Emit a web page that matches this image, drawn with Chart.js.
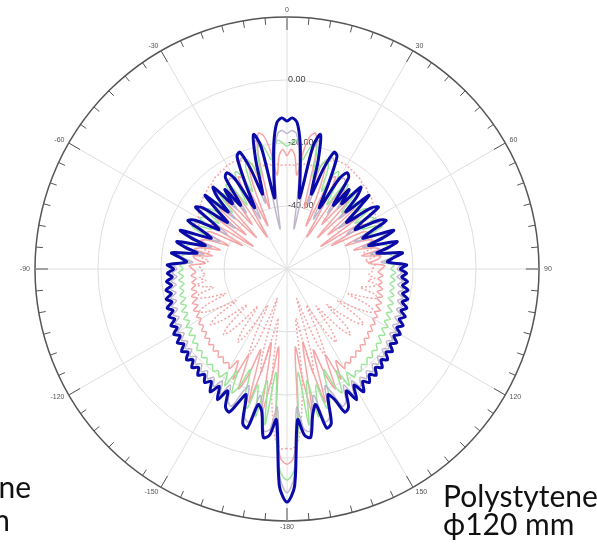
<!DOCTYPE html>
<html>
<head>
<meta charset="utf-8">
<script src="https://cdn.jsdelivr.net/npm/chart.js@4.4.1/dist/chart.umd.min.js"></script>
<style>
  html, body { margin: 0; padding: 0; background: #fff; overflow: hidden; }
  #wrap { position: relative; width: 597px; height: 549px; overflow: hidden; }
  #c { position: absolute; left: 0; top: 0; }
  .note { position: absolute; font-family: Lato, "Open Sans", sans-serif; font-size: 30px; line-height: 28px; color: #111; white-space: nowrap; }
</style>
</head>
<body>
<div id="wrap">
  <canvas id="c" width="597" height="549"></canvas>
  <div class="note" style="left:443px; top:481px;">Polystytene<br>ϕ120 mm</div>
  <div class="note" style="right:566px; top:472px; text-align:right;">Polyethylene</div>
  <div class="note" style="right:587px; top:505px; text-align:right;">ϕ120 mm</div>
</div>
<script>
(function () {

    // angles in degrees, 0 at top, clockwise, 2 deg step
    const angles = [];
    for (let a = -180; a < 180; a += 2) angles.push(a);

    // dB values, -180 .. 178
    const blue = [
        14, 9, -12, -7, -6, -14, -16, -8, -9, -18,
        -15, -11, -12, -17, -13, -17, -14, -17, -15.5, -17.5,
        -16, -18, -16.5, -18.5, -17, -19, -17.5, -19.5, -18, -20,
        -18.5, -20.5, -19, -21, -19.5, -21.5, -20, -22, -20.5, -22.5,
        -21, -23, -21.5, -23.5, -22, -24, -22, -28, -26, -23,
        -31, -27, -24, -33, -28, -24, -34, -31, -25, -27,
        -35, -32, -25, -27, -36, -31, -25, -34, -28, -25,
        -33, -28, -35, -25, -24, -27, -38, -30, -21, -20,
        -26, -35, -24, -16, -20, -37, -30, -20, -13.5, -12,
        -13, -12, -13.5, -20, -30, -37, -20, -16, -24, -35,
        -26, -20, -21, -30, -38, -27, -24, -25, -35, -28,
        -33, -25, -28, -34, -25, -31, -36, -27, -25, -32,
        -35, -27, -25, -31, -34, -24, -28, -33, -24, -27,
        -31, -23, -26, -28, -22, -24, -22, -23.5, -21.5, -23,
        -21, -22.5, -20.5, -22, -20, -21.5, -19.5, -21, -19, -20.5,
        -18.5, -20, -18, -19.5, -17.5, -19, -17, -18.5, -16.5, -18,
        -16, -17.5, -15.5, -17, -14, -17.5, -13, -17, -12, -11,
        -16, -18, -9, -8, -16, -13, -6, -7, -12, 9
    ];

    const grey = [
        11, 6, -16, -9, -8, -15, -19, -10, -11, -21,
        -18, -13, -14, -19, -15, -19, -16, -18.5, -17, -19,
        -17.5, -19.5, -18, -20, -18.5, -20.5, -19, -21, -19.5, -21.5,
        -20, -22, -20.5, -22.5, -21, -23, -21.5, -23.5, -22, -24,
        -22.5, -24.5, -23, -25, -23.5, -25, -24, -30, -27, -25,
        -33, -28, -26, -35, -30, -26, -37, -33, -27, -29,
        -38, -34, -27, -28, -39, -33, -27, -37, -29, -27,
        -35, -30, -38, -27, -26, -28, -42, -33, -23, -22,
        -27, -38, -25, -18, -22, -47, -34, -23, -17, -16,
        -17, -16, -17, -23, -34, -47, -22, -18, -25, -38,
        -27, -22, -23, -33, -42, -28, -26, -27, -38, -30,
        -35, -27, -29, -37, -27, -33, -39, -28, -27, -34,
        -38, -29, -27, -33, -37, -26, -30, -35, -26, -28,
        -33, -25, -27, -30, -24, -25, -23.5, -25, -23, -24.5,
        -22.5, -24, -22, -23.5, -21.5, -23, -21, -22.5, -20.5, -22,
        -20, -21.5, -19.5, -21, -19, -20.5, -18.5, -20, -18, -19.5,
        -17.5, -19, -17, -18.5, -16, -19, -15, -19, -14, -13,
        -18, -21, -11, -10, -19, -15, -8, -9, -16, 6
    ];

    const green = [
        7, 4, -9, -27, -10, -24, -12, -22, -14, -16,
        -26, -20, -17, -24, -18, -22, -19.5, -21, -20, -21.5,
        -20.5, -22, -21, -22.5, -21.5, -23, -22, -24, -22.5, -24.5,
        -23, -25, -23.5, -25.5, -24, -26, -24.5, -26.5, -25, -26.5,
        -25.5, -27, -25.5, -27, -25.5, -27, -26, -29, -26, -27,
        -30, -27, -28, -31, -27, -28, -32, -27, -29, -33,
        -28, -29, -34, -28, -29, -33, -28, -30, -35, -28,
        -29, -33, -27, -28, -36, -29, -25, -27, -33, -25,
        -23, -26, -30, -21, -19, -22, -25, -21, -19, -20,
        -21, -20, -19, -21, -25, -22, -19, -21, -30, -26,
        -23, -25, -33, -27, -25, -29, -36, -28, -27, -33,
        -29, -28, -35, -30, -28, -33, -29, -28, -34, -29,
        -28, -33, -29, -27, -32, -28, -27, -31, -28, -27,
        -30, -27, -26, -29, -26, -27, -25.5, -27, -25.5, -27,
        -25.5, -26.5, -25, -26.5, -24.5, -26, -24, -25.5, -23.5, -25,
        -23, -24.5, -22.5, -24, -22, -23, -21.5, -22.5, -21, -22,
        -20.5, -21.5, -20, -21, -19.5, -22, -18, -24, -17, -20,
        -26, -16, -14, -22, -12, -24, -10, -27, -9, 4
    ];

    const pink = [
        2, 0, -10, -35, -25, -13, -36, -27, -16, -33,
        -24, -19, -30, -21, -27, -23.5, -25, -24, -25.5, -24.5,
        -26, -25, -26.5, -25.5, -27, -26, -27.5, -26.5, -28, -27,
        -28.5, -27.5, -29, -27.5, -29.5, -28, -30, -28.5, -30.5, -29,
        -30.5, -29.5, -31, -29.5, -31, -30, -29, -34, -31, -30,
        -36, -30, -32, -38, -31, -33, -40, -32, -33, -44,
        -32, -34, -47, -32, -34, -43, -31, -33, -46, -31,
        -35, -42, -29, -30, -48, -38, -27, -28, -45, -32,
        -24, -26, -40, -22, -16, -17, -22, -30, -24, -22,
        -24, -22, -24, -30, -22, -17, -16, -22, -40, -26,
        -24, -32, -45, -28, -27, -38, -48, -30, -29, -42,
        -35, -31, -46, -33, -31, -43, -34, -32, -47, -34,
        -32, -44, -33, -32, -40, -33, -31, -38, -32, -30,
        -36, -30, -31, -34, -29, -30, -31, -29.5, -31, -29.5,
        -30.5, -29, -30.5, -28.5, -30, -28, -29.5, -27.5, -29, -27.5,
        -28.5, -27, -28, -26.5, -27.5, -26, -27, -25.5, -26.5, -25,
        -26, -24.5, -25.5, -24, -25, -23.5, -27, -21, -30, -19,
        -24, -33, -16, -27, -36, -13, -25, -35, -10, 0
    ];

    const pinkDotted = [
        -3, -3, -6, -15, -26, -44, -38, -26, -32, -50,
        -44, -34, -30, -38, -47, -42, -35, -32, -36, -45,
        -40, -34, -31, -34, -43, -38, -33, -30, -33, -41,
        -36, -31, -29, -32, -39, -34, -30, -31, -36, -33,
        -31, -34, -32, -34, -33, -33, -32, -33, -35, -32,
        -33, -35, -32, -34, -32, -31.5, -31, -30, -29, -28,
        -27.5, -27, -26.5, -26, -25.5, -25, -25, -24.5, -24, -24,
        -23.5, -23, -23, -22.5, -22.5, -22, -22, -22, -22.5, -23,
        -24, -25, -26, -26, -26.5, -26, -27, -26.5, -27, -27,
        -27, -27, -27, -26.5, -27, -26, -26.5, -26, -26, -25,
        -24, -23, -22.5, -22, -22, -22, -22.5, -22.5, -23, -23,
        -23.5, -24, -24, -24.5, -25, -25, -25.5, -26, -26.5, -27,
        -27.5, -28, -29, -30, -31, -31.5, -32, -34, -32, -35,
        -33, -32, -35, -33, -32, -33, -33, -34, -32, -34,
        -31, -33, -36, -31, -30, -34, -39, -32, -29, -31,
        -36, -41, -33, -30, -33, -38, -43, -34, -31, -34,
        -40, -45, -36, -32, -35, -42, -47, -38, -30, -34,
        -44, -50, -32, -26, -38, -44, -26, -15, -6, -3
    ];

    // radial tick labels and angle labels
    const rTickValues = [0, -20, -40];
    const rTickLabels = ['0.00', '-20.00', '-40.00'];
    const angleLabels = [0, 30, 60, 90, 120, 150, -180, -150, -120, -90, -60, -30];

    const axisFont = '"Liberation Sans", Arial, sans-serif';

    // outer ring ticks, angle labels and dB labels
    const polarFrame = {
        id: 'polarFrame',
        beforeDatasetsDraw(chart) {
            const s = chart.scales.r;
            const ctx = chart.ctx;
            const R = s.drawingArea;
            ctx.save();

            ctx.strokeStyle = '#555';
            ctx.lineWidth = 1;
            for (let d = 0; d < 360; d += 5) {
                const len = d % 30 === 0 ? 13 : 7;
                const t = d * Math.PI / 180;
                ctx.beginPath();
                ctx.moveTo(s.xCenter + Math.sin(t) * R, s.yCenter - Math.cos(t) * R);
                ctx.lineTo(s.xCenter + Math.sin(t) * (R - len), s.yCenter - Math.cos(t) * (R - len));
                ctx.stroke();
            }

            ctx.font = '7px ' + axisFont;
            ctx.fillStyle = '#555';
            angleLabels.forEach(function (a) {
                const idx = angles.indexOf(a);
                const t = a * Math.PI / 180;
                const sn = Math.sin(t), cs = Math.cos(t);
                const p = s.getPointPosition(idx, R + (Math.abs(sn) < 0.1 ? 3 : 5));
                ctx.textAlign = sn > 0.1 ? 'left' : (sn < -0.1 ? 'right' : 'center');
                ctx.textBaseline = cs > 0.9 ? 'bottom' : (cs < -0.9 ? 'top' : 'middle');
                ctx.fillText(String(a), p.x, p.y);
            });

            ctx.font = '9px ' + axisFont;
            ctx.fillStyle = '#444';
            ctx.textAlign = 'left';
            ctx.textBaseline = 'middle';
            rTickValues.forEach(function (v, i) {
                const dist = s.getDistanceFromCenterForValue(v);
                ctx.fillText(rTickLabels[i], s.xCenter + 1, s.yCenter - dist);
            });
            ctx.restore();
        }
    };

    const line = (data, color, width, dash) => ({
        data: data,
        borderColor: color,
        borderWidth: width,
        borderDash: dash || [],
        borderJoinStyle: 'round',
        fill: false,
        pointRadius: 0,
        pointHoverRadius: 0
    });

    const data = {
        labels: angles,
        datasets: [
            line(blue, '#0a0aa8', 3),
            line(grey, 'rgba(185,175,200,0.9)', 1.5),
            line(green, 'rgba(150,228,150,0.95)', 1.5),
            line(pink, 'rgba(244,160,160,0.95)', 1.5),
            line(pinkDotted, 'rgba(244,160,160,0.95)', 1.5, [2, 2])
        ]
    };

    const config = {
        type: 'radar',
        data,
        options: {
            responsive: false,
            animation: false,
            layout: { padding: { left: 35, top: 17, right: 58, bottom: 28 } },
            plugins: { legend: { display: false }, tooltip: { enabled: false } },
            elements: { line: { tension: 0.3 } },
            scales: {
                r: {
                    min: -60,
                    max: 20,
                    startAngle: 180,
                    ticks: { display: false, stepSize: 20 },
                    pointLabels: { display: false },
                    grid: {
                        circular: true,
                        color: (c) => c.tick && c.tick.value === 20 ? '#555' : '#dedede',
                        lineWidth: (c) => c.tick && c.tick.value === 20 ? 1.5 : 1
                    },
                    angleLines: {
                        color: '#dedede',
                        lineWidth: (c) => c.index % 15 === 0 ? 1 : 0
                    }
                }
            }
        },
        plugins: [polarFrame]
    };

    new Chart(document.getElementById('c'), config);
})();
</script>
</body>
</html>
